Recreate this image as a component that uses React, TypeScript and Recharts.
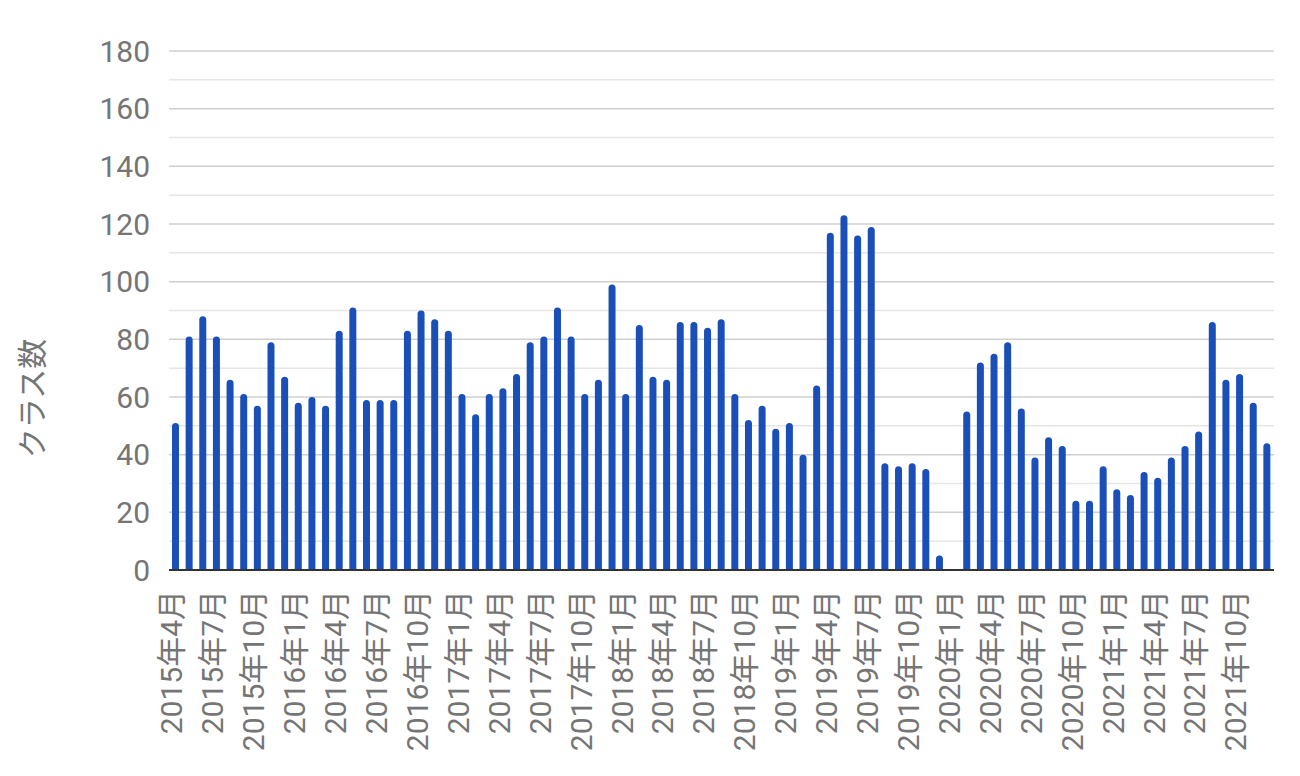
import { BarChart, Bar, XAxis, YAxis, CartesianGrid } from 'recharts';

// monthly class counts, April 2015 .. December 2021
const classes2015 = [51, 81, 88, 81, 66, 61, 57, 79, 67]; // Apr-Dec
const classes2016 = [58, 60, 57, 83, 91, 59, 59, 59, 83, 90, 87, 83];
const classes2017 = [61, 54, 61, 63, 68, 79, 81, 91, 81, 61, 66, 99];
const classes2018 = [61, 85, 67, 66, 86, 86, 84, 87, 61, 52, 57, 49];
const classes2019 = [51, 40, 64, 117, 123, 116, 119, 37, 36, 37, 35, 5];
const classes2020 = [null, 55, 72, 75, 79, 56, 39, 46, 43, 24, 24, 36];
const classes2021 = [28, 26, 34, 32, 39, 43, 48, 86, 66, 68, 58, 44];

const years = [2015, 2016, 2017, 2018, 2019, 2020, 2021];
const yearlyCounts = [classes2015, classes2016, classes2017, classes2018, classes2019, classes2020, classes2021];

const yTicks = [0, 20, 40, 60, 80, 100, 120, 140, 160, 180];
const yMinorTicks = [10, 30, 50, 70, 90, 110, 130, 150, 170];

const data = years.flatMap((year, i) => {
    const counts = yearlyCounts[i];
    const firstMonth = 13 - counts.length;
    return counts.map((count, j) => ({
        month: `${year}年${firstMonth + j}月`,
        count,
    }));
});

const FONT = "Roboto, 'Noto Sans CJK JP', sans-serif";
const TEXT_COLOR = '#757575';

function MonthTick({ x, y, payload }: any) {
    return (
        <text
            transform={`translate(${x - 4},${y + 12}) rotate(-90)`}
            textAnchor="end"
            dominantBaseline="central"
            fontFamily={FONT}
            fontSize={30}
            fill={TEXT_COLOR}
        >
            {payload.value}
        </text>
    );
}

function AxisTitle({ viewBox }: any) {
    const cx = viewBox.x - 37;
    const cy = viewBox.y + viewBox.height / 2 + 88;
    return (
        <text
            transform={`translate(${cx},${cy}) rotate(-90)`}
            textAnchor="middle"
            dominantBaseline="central"
            fontFamily={FONT}
            fontSize={30}
            fill={TEXT_COLOR}
        >
            クラス数
        </text>
    );
}

export default function App() {
    return (
        <BarChart
            width={1292}
            height={768}
            data={data}
            margin={{ top: 43, right: 26, bottom: 16, left: 61 }}
        >
            <CartesianGrid vertical={false} horizontalValues={yMinorTicks} stroke="#e6e6e6" strokeWidth={1.5} />
            <CartesianGrid vertical={false} stroke="#cfcfcf" strokeWidth={1.5} />
            <XAxis
                dataKey="month"
                interval={2}
                tick={<MonthTick />}
                tickLine={false}
                axisLine={{ stroke: '#333333', strokeWidth: 2 }}
                height={190}
            />
            <YAxis
                domain={[0, 180]}
                ticks={yTicks}
                axisLine={false}
                tickLine={false}
                tickMargin={13}
                width={100}
                tick={{ fontFamily: FONT, fontSize: 30, fill: TEXT_COLOR }}
                label={<AxisTitle />}
            />
            <Bar
                dataKey="count"
                fill="#1a4fb8"
                barSize={7}
                radius={[3.5, 3.5, 0, 0]}
                isAnimationActive={false}
            />
        </BarChart>
    );
}
